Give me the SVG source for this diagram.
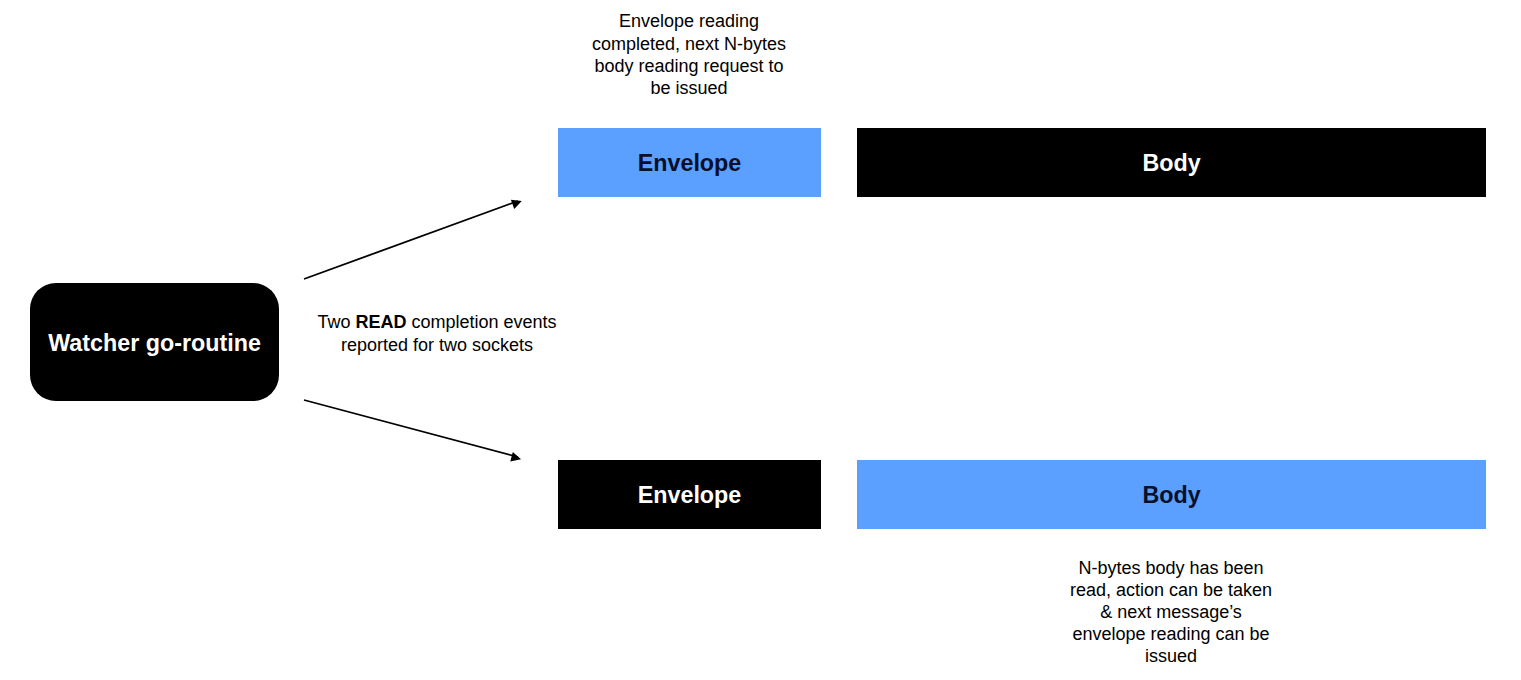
<svg xmlns="http://www.w3.org/2000/svg" width="1521" height="680" viewBox="0 0 1521 680">
<style>
.lbl{font-family:"Liberation Sans",Arial,sans-serif;font-weight:bold;font-size:23.3px;text-anchor:middle}
.ann{font-family:"Liberation Sans",Arial,sans-serif;font-size:18px;text-anchor:middle;fill:#000}
.blue{fill:#5b9fff}
.dark{fill:#000}
.w{fill:#fff}
.nv{fill:#0a0f2a}
.conn{stroke:#000;stroke-width:1.8;fill:none;marker-end:url(#ah)}
</style>
<defs>
<marker id="ah" viewBox="0 0 10 10" refX="9" refY="5" markerWidth="7" markerHeight="7" markerUnits="userSpaceOnUse" orient="auto" overflow="visible">
<path d="M0,0 L10,5 L0,10 z" fill="#000" transform="scale(1.4)"/>
</marker>
</defs>
<rect width="1521" height="680" fill="#fff"/>
<g id="watcher">
<rect x="30" y="283" width="249" height="118" rx="26" class="dark"/>
<text x="154.5" y="351" class="lbl w">Watcher go-routine</text>
</g>
<g id="env1">
<rect x="558" y="128" width="263" height="69" class="blue"/>
<text x="689.5" y="171" class="lbl nv">Envelope</text>
</g>
<g id="body1">
<rect x="857" y="128" width="629" height="69" class="dark"/>
<text x="1171.5" y="171" class="lbl w">Body</text>
</g>
<g id="env2">
<rect x="558" y="460" width="263" height="69" class="dark"/>
<text x="689.5" y="503" class="lbl w">Envelope</text>
</g>
<g id="body2">
<rect x="857" y="460" width="629" height="69" class="blue"/>
<text x="1171.5" y="503" class="lbl nv">Body</text>
</g>
<g id="connectors">
<line x1="304" y1="279" x2="518" y2="201" class="conn"/>
<line x1="304" y1="400" x2="518" y2="457" class="conn"/>
</g>
<g id="annotations">
<text class="ann"><tspan x="689" y="27">Envelope reading</tspan><tspan x="689" y="50">completed, next N-bytes</tspan><tspan x="689" y="72">body reading request to</tspan><tspan x="689" y="94">be issued</tspan></text>
<text class="ann"><tspan x="437" y="328">Two <tspan font-weight="bold">READ</tspan> completion events</tspan><tspan x="437" y="351">reported for two sockets</tspan></text>
<text class="ann"><tspan x="1171" y="574">N-bytes body has been</tspan><tspan x="1171" y="596">read, action can be taken</tspan><tspan x="1171" y="618">&amp; next message’s</tspan><tspan x="1171" y="640">envelope reading can be</tspan><tspan x="1171" y="662">issued</tspan></text>
</g>
</svg>
